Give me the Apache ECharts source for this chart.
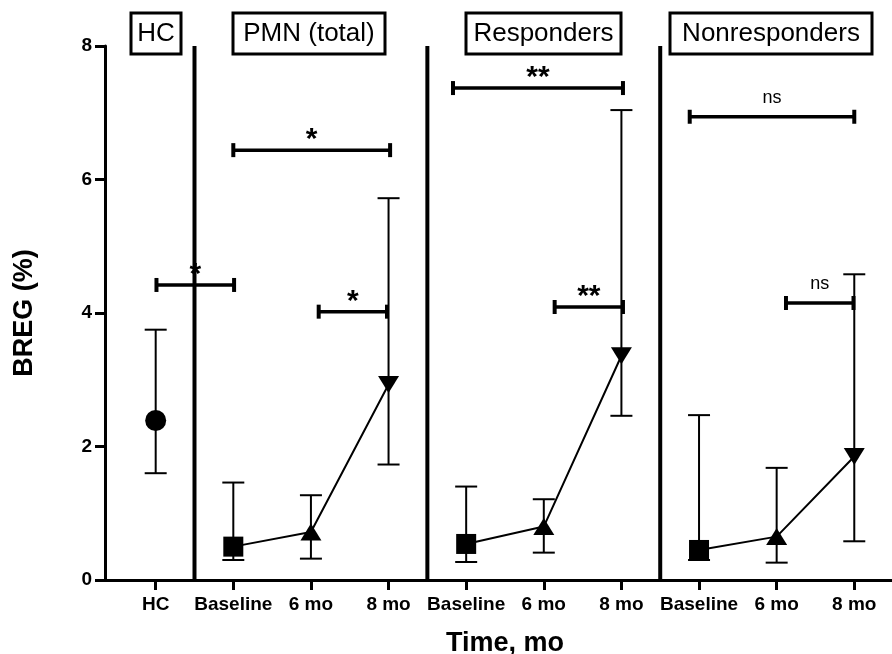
<!DOCTYPE html>
<html>
<head>
<meta charset="utf-8">
<script src="https://cdn.jsdelivr.net/npm/echarts@6/dist/echarts.min.js"></script>
<style>
html,body{margin:0;padding:0;background:#fff;}
#chart{width:892px;height:654px;}
</style>
</head>
<body>
<div id="chart"></div>
<script>
// ---- data ----
const categories = ['HC','Baseline','6 mo','8 mo','Baseline','6 mo','8 mo','Baseline','6 mo','8 mo'];
const yTicks = [0, 2, 4, 6, 8];
const panelTitles = ['HC','PMN (total)','Responders','Nonresponders'];

const hcX = [0];
const hcValues = [2.39];
const hcLower = [1.60];
const hcUpper = [3.75];

const pmnX = [1, 2, 3];
const pmnValues = [0.50, 0.72, 2.93];
const pmnLower = [0.30, 0.32, 1.73];
const pmnUpper = [1.46, 1.27, 5.72];

const respX = [4, 5, 6];
const respValues = [0.54, 0.80, 3.36];
const respLower = [0.27, 0.41, 2.46];
const respUpper = [1.40, 1.21, 7.04];

const nonrespX = [7, 8, 9];
const nonrespValues = [0.45, 0.65, 1.85];
const nonrespLower = [0.30, 0.26, 0.58];
const nonrespUpper = [2.47, 1.68, 4.58];

const separatorX = [0.5, 3.5, 6.5];

const bracketStart = [0.01, 2.10, 1.00, 3.83, 5.14, 6.88, 8.12];
const bracketEnd   = [1.01, 2.98, 3.02, 6.02, 6.02, 9.00, 8.99];
const bracketY     = [4.42, 4.02, 6.44, 7.37, 4.09, 6.94, 4.15];
const bracketLabels = ['*', '*', '*', '**', '**', 'ns', 'ns'];

// ---- chart ----
const FONT = '"Liberation Sans", Arial, sans-serif';
const chart = echarts.init(document.getElementById('chart'), null, {renderer: 'canvas'});

const groupSymbols = [
  {symbol: 'rect', symbolSize: 20, symbolRotate: 0},
  {symbol: 'triangle', symbolSize: [21, 17], symbolRotate: 0},
  {symbol: 'triangle', symbolSize: [21, 17], symbolRotate: 180}
];

function groupData(xs, vals) {
  return xs.map((x, i) => Object.assign({value: [x, vals[i]]}, groupSymbols[i]));
}
function errData(xs, lo, hi) {
  return xs.map((x, i) => [x, lo[i], hi[i]]);
}

const allErr = [].concat(
  errData(hcX, hcLower, hcUpper),
  errData(pmnX, pmnLower, pmnUpper),
  errData(respX, respLower, respUpper),
  errData(nonrespX, nonrespLower, nonrespUpper)
);

function lineSeries(xs, vals) {
  return {
    type: 'line',
    data: groupData(xs, vals),
    lineStyle: {color: '#000', width: 2},
    itemStyle: {color: '#000', opacity: 1},
    showAllSymbol: true,
    silent: true,
    animation: false,
    z: 5
  };
}

const option = {
  animation: false,
  backgroundColor: '#fff',
  grid: {left: 105, right: 0, top: 46, bottom: 74, containLabel: false, outerBoundsMode: 'none'},
  xAxis: {
    type: 'value',
    min: -0.653,
    max: 9.486,
    splitLine: {show: false},
    axisLine: {show: true, onZero: false, lineStyle: {color: '#000', width: 3}},
    axisTick: {show: true, customValues: categories.map((c, i) => i), length: 10, lineStyle: {color: '#000', width: 3}},
    axisLabel: {
      show: true,
      customValues: categories.map((c, i) => i),
      formatter: v => categories[Math.round(v)] || '',
      color: '#000', fontFamily: FONT, fontWeight: 'bold', fontSize: 19, margin: 15
    },
    name: 'Time, mo',
    nameLocation: 'middle',
    nameGap: 50,
    nameTextStyle: {color: '#000', fontFamily: FONT, fontWeight: 'bold', fontSize: 27, padding: [0, 0, 0, 13]}
  },
  yAxis: {
    type: 'value',
    min: yTicks[0],
    max: yTicks[yTicks.length - 1],
    interval: 2,
    splitLine: {show: false},
    axisLine: {show: true, onZero: false, lineStyle: {color: '#000', width: 3}},
    axisTick: {show: true, length: 10, lineStyle: {color: '#000', width: 3}},
    axisLabel: {color: '#000', fontFamily: FONT, fontWeight: 'bold', fontSize: 19, margin: 13},
    name: 'BREG (%)',
    nameLocation: 'middle',
    nameGap: 67,
    nameTextStyle: {color: '#000', fontFamily: FONT, fontWeight: 'bold', fontSize: 27}
  },
  series: [
    // panel separators
    {
      type: 'custom',
      data: separatorX.map(x => [x]),
      encode: {x: 0},
      silent: true,
      z: 3,
      renderItem: function (params, api) {
        const x = api.value(0);
        const a = api.coord([x, yTicks[0]]);
        const b = api.coord([x, yTicks[yTicks.length - 1]]);
        return {type: 'line', shape: {x1: a[0], y1: a[1], x2: b[0], y2: b[1]}, style: {stroke: '#000', lineWidth: 4}};
      }
    },
    // error bars
    {
      type: 'custom',
      data: allErr,
      encode: {x: 0, y: [1, 2]},
      silent: true,
      z: 4,
      renderItem: function (params, api) {
        const x = api.value(0);
        const lo = api.coord([x, api.value(1)]);
        const hi = api.coord([x, api.value(2)]);
        const hw = 11;
        return {
          type: 'group',
          children: [
            {type: 'line', shape: {x1: lo[0], y1: lo[1], x2: hi[0], y2: hi[1]}, style: {stroke: '#000', lineWidth: 2}},
            {type: 'line', shape: {x1: hi[0] - hw, y1: hi[1], x2: hi[0] + hw, y2: hi[1]}, style: {stroke: '#000', lineWidth: 2}},
            {type: 'line', shape: {x1: lo[0] - hw, y1: lo[1], x2: lo[0] + hw, y2: lo[1]}, style: {stroke: '#000', lineWidth: 2}}
          ]
        };
      }
    },
    // significance brackets
    {
      type: 'custom',
      data: bracketStart.map((s, i) => [s, bracketEnd[i], bracketY[i]]),
      encode: {x: [0, 1], y: 2},
      silent: true,
      z: 6,
      renderItem: function (params, api) {
        const a = api.coord([api.value(0), api.value(2)]);
        const b = api.coord([api.value(1), api.value(2)]);
        const lab = bracketLabels[params.dataIndex];
        const isNs = lab === 'ns';
        const cx = (a[0] + b[0]) / 2;
        return {
          type: 'group',
          children: [
            {type: 'line', shape: {x1: a[0], y1: a[1], x2: b[0], y2: b[1]}, style: {stroke: '#000', lineWidth: 3.5}},
            {type: 'line', shape: {x1: a[0], y1: a[1] - 7, x2: a[0], y2: a[1] + 7}, style: {stroke: '#000', lineWidth: 4}},
            {type: 'line', shape: {x1: b[0], y1: b[1] - 7, x2: b[0], y2: b[1] + 7}, style: {stroke: '#000', lineWidth: 4}},
            {
              type: 'text',
              style: {
                text: lab,
                x: cx,
                y: isNs ? a[1] - 19 : a[1] - 10,
                align: 'center',
                verticalAlign: 'middle',
                fill: '#000',
                font: (isNs ? 'normal 18px ' : 'bold 30px ') + FONT
              }
            }
          ]
        };
      }
    },
    // HC point
    {
      type: 'scatter',
      data: hcX.map((x, i) => [x, hcValues[i]]),
      symbol: 'circle',
      symbolSize: 21,
      itemStyle: {color: '#000', opacity: 1},
      silent: true,
      z: 5
    },
    lineSeries(pmnX, pmnValues),
    lineSeries(respX, respValues),
    lineSeries(nonrespX, nonrespValues)
  ],
  graphic: [
    {type: 'rect', shape: {x: 131, y: 13, width: 50, height: 41}, style: {fill: '#fff', stroke: '#000', lineWidth: 3}},
    {type: 'text', style: {text: panelTitles[0], x: 156, y: 34, align: 'center', verticalAlign: 'middle', font: '26px ' + FONT, fill: '#000'}},
    {type: 'rect', shape: {x: 233, y: 13, width: 152, height: 41}, style: {fill: '#fff', stroke: '#000', lineWidth: 3}},
    {type: 'text', style: {text: panelTitles[1], x: 309, y: 34, align: 'center', verticalAlign: 'middle', font: '26px ' + FONT, fill: '#000'}},
    {type: 'rect', shape: {x: 466, y: 13, width: 155, height: 41}, style: {fill: '#fff', stroke: '#000', lineWidth: 3}},
    {type: 'text', style: {text: panelTitles[2], x: 543.5, y: 34, align: 'center', verticalAlign: 'middle', font: '26px ' + FONT, fill: '#000'}},
    {type: 'rect', shape: {x: 670, y: 13, width: 202, height: 41}, style: {fill: '#fff', stroke: '#000', lineWidth: 3}},
    {type: 'text', style: {text: panelTitles[3], x: 771, y: 34, align: 'center', verticalAlign: 'middle', font: '26px ' + FONT, fill: '#000'}}
  ]
};

chart.setOption(option);
</script>
</body>
</html>
